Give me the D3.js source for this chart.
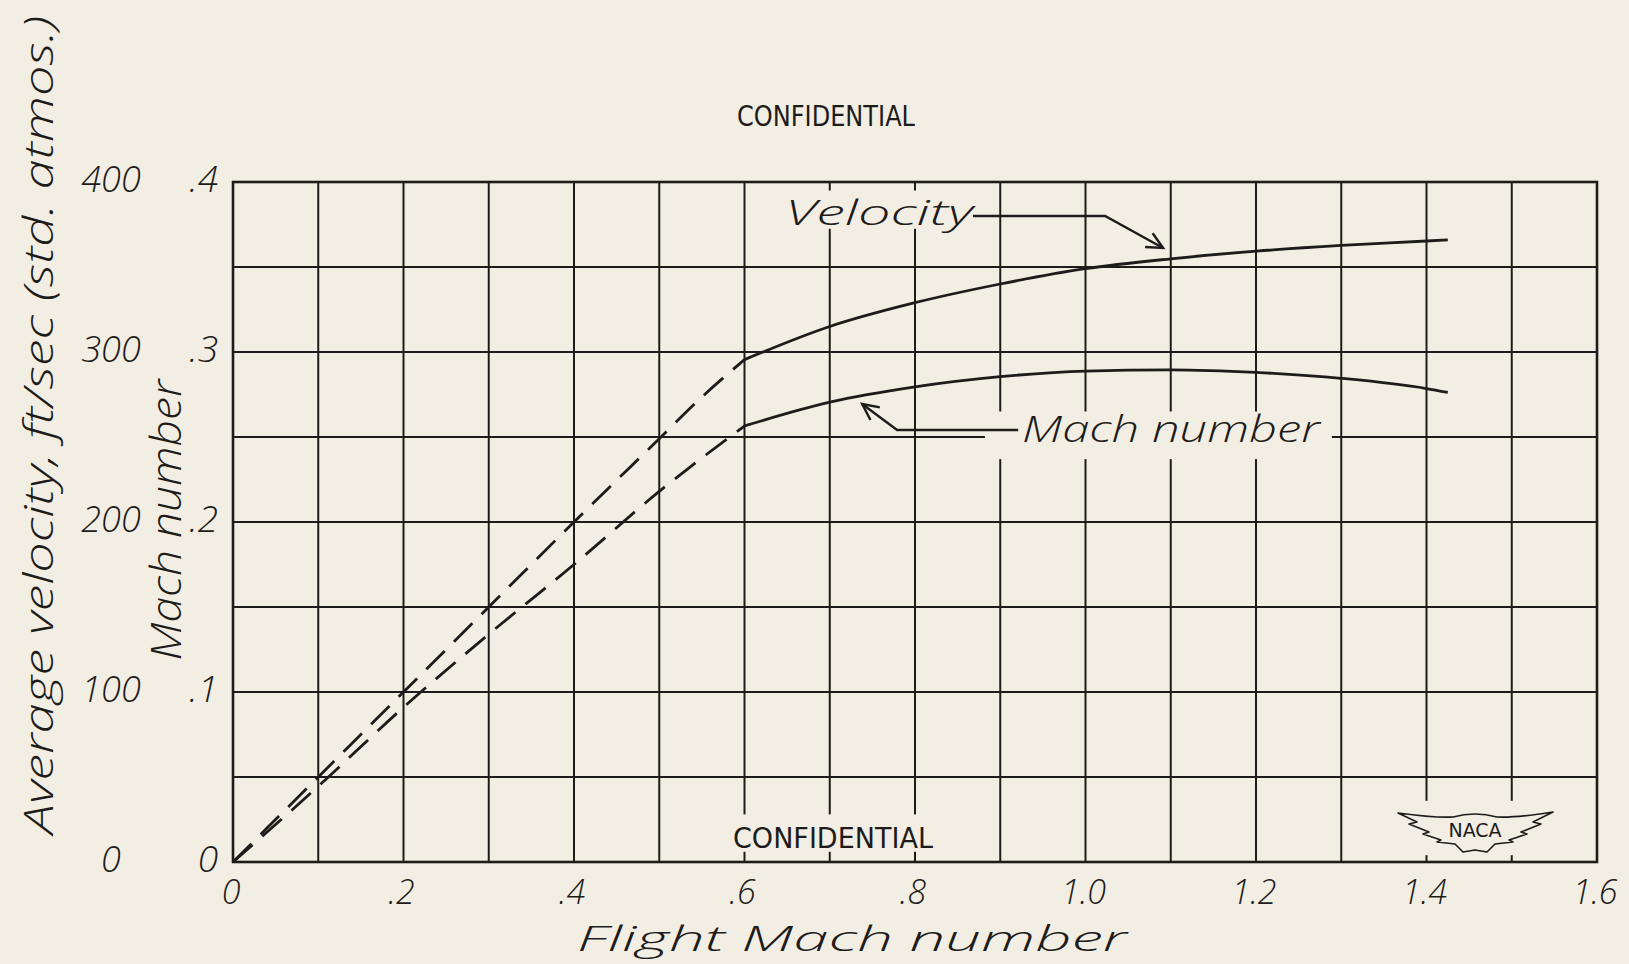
<!DOCTYPE html>
<html>
<head>
<meta charset="utf-8">
<script src="https://cdn.jsdelivr.net/npm/d3@7"></script>
<style>
  html, body { margin: 0; padding: 0; background: #f3eee4; }
  svg { display: block; }
  .hand { font-family: "Open Sans", "DejaVu Sans", sans-serif; font-style: italic; font-weight: 300; fill: #1e1c1a; }
  .stamp { font-family: "DejaVu Sans", sans-serif; font-weight: 500; fill: #1e1c1a; }
</style>
</head>
<body>
<svg id="chart" width="1629" height="964"></svg>
<script>
// x axis: flight Mach number
const xTickVals = [0, 0.2, 0.4, 0.6, 0.8, 1.0, 1.2, 1.4, 1.6];
const xTickLabels = ["0", ".2", ".4", ".6", ".8", "1.0", "1.2", "1.4", "1.6"];
// left axes: Mach number and velocity (ft/sec)
const machTickVals = [0, 0.1, 0.2, 0.3, 0.4];
const machTickLabels = ["0", ".1", ".2", ".3", ".4"];
const velTickVals = [0, 100, 200, 300, 400];
const velTickLabels = ["0", "100", "200", "300", "400"];

// average velocity, ft/sec
const velDashedM = [0, 0.1, 0.2, 0.3, 0.4, 0.5, 0.55, 0.6];
const velDashed  = [0, 50, 100, 150, 200, 249, 273.5, 295.5];
const velSolidM  = [0.6, 0.7, 0.8, 0.9, 1.0, 1.1, 1.2, 1.3, 1.4, 1.425];
const velSolid   = [295.5, 315, 329, 340, 349, 354.8, 359.3, 362.7, 365.3, 366];
// average Mach number
const machDashedM = [0, 0.1, 0.2, 0.3, 0.4, 0.5, 0.6];
const machDashed  = [0, 0.0445, 0.091, 0.134, 0.175, 0.218, 0.2565];
const machSolidM  = [0.6, 0.7, 0.8, 0.9, 1.0, 1.1, 1.2, 1.3, 1.4, 1.425];
const machSolid   = [0.2565, 0.2705, 0.2795, 0.2855, 0.2888, 0.2895, 0.288, 0.2845, 0.2785, 0.2762];

const ink = "#1e1c1a", paper = "#f3eee4";
const svg = d3.select("#chart");
const plotL = 233, plotR = 1597, plotT = 182, plotB = 862;

const x = d3.scaleLinear().domain([0, 1.6]).range([plotL, plotR]);
const yM = d3.scaleLinear().domain([0, 0.4]).range([plotB, plotT]);
const yV = d3.scaleLinear().domain([0, 400]).range([plotB, plotT]);

// grid
const grid = svg.append("g").attr("stroke", ink).attr("stroke-width", 2);
grid.selectAll("line.v").data(x.ticks(16)).join("line").attr("class", "v")
  .attr("x1", d => x(d)).attr("x2", d => x(d)).attr("y1", plotT).attr("y2", plotB);
grid.selectAll("line.h").data(yM.ticks(8)).join("line").attr("class", "h")
  .attr("x1", plotL).attr("x2", plotR).attr("y1", d => yM(d)).attr("y2", d => yM(d));

// paper gaps where the lettering sits on the grid
const gaps = [
  {m0: 0.636, m1: 0.883, v0: 0.3725, v1: 0.395},   // Velocity
  {m0: 0.882, m1: 1.289, v0: 0.237, v1: 0.265},    // Mach number
  {m0: 0.58,  m1: 0.84,  v0: 0.006, v1: 0.028},    // CONFIDENTIAL
  {m0: 1.35,  m1: 1.55,  v0: 0.004, v1: 0.036}     // NACA
];
svg.append("g").selectAll("rect").data(gaps).join("rect")
  .attr("x", d => x(d.m0)).attr("width", d => x(d.m1) - x(d.m0))
  .attr("y", d => yM(d.v1)).attr("height", d => yM(d.v0) - yM(d.v1))
  .attr("fill", paper);

// frame
svg.append("rect").attr("x", plotL).attr("y", plotT)
  .attr("width", plotR - plotL).attr("height", plotB - plotT)
  .attr("fill", "none").attr("stroke", ink).attr("stroke-width", 2.6);

// curves
const lineV = d3.line().x(d => x(d[0])).y(d => yV(d[1])).curve(d3.curveMonotoneX);
const lineM = d3.line().x(d => x(d[0])).y(d => yM(d[1])).curve(d3.curveMonotoneX);
const curves = [
  {gen: lineV, pts: d3.zip(velDashedM, velDashed), dash: "26,13"},
  {gen: lineV, pts: d3.zip(velSolidM, velSolid), dash: null},
  {gen: lineM, pts: d3.zip(machDashedM, machDashed), dash: "26,13"},
  {gen: lineM, pts: d3.zip(machSolidM, machSolid), dash: null}
];
svg.append("g").selectAll("path").data(curves).join("path")
  .attr("d", d => d.gen(d.pts))
  .attr("fill", "none").attr("stroke", ink).attr("stroke-width", 2.8)
  .attr("stroke-dasharray", d => d.dash);

// leaders with open arrowheads (points in Mach / Mach-axis units)
const leaders = [
  [[0.868, 0.380], [1.023, 0.380], [1.091, 0.3612]],
  [[0.921, 0.2541], [0.779, 0.2541], [0.738, 0.2694]]
];
const lead = svg.append("g").attr("stroke", ink).attr("stroke-width", 2.4).attr("fill", "none");
leaders.forEach(pts => {
  const p = pts.map(d => [x(d[0]), yM(d[1])]);
  lead.append("path").attr("d", d3.line()(p));
  const [a, b] = [p[p.length - 2], p[p.length - 1]];
  const ang = Math.atan2(a[1] - b[1], a[0] - b[0]);
  const arm = s => [b[0] + 18 * Math.cos(ang + s), b[1] + 18 * Math.sin(ang + s)];
  lead.append("path").attr("d", d3.line()([arm(0.45), b, arm(-0.45)]));
});

// curve labels
svg.append("text").attr("class", "hand")
  .attr("x", x(0.6475)).attr("y", yM(0.3747))
  .attr("font-size", 34).attr("textLength", 188).attr("lengthAdjust", "spacingAndGlyphs")
  .text("Velocity");
svg.append("text").attr("class", "hand")
  .attr("x", x(0.9255)).attr("y", yM(0.247))
  .attr("font-size", 36).attr("textLength", 298).attr("lengthAdjust", "spacingAndGlyphs")
  .text("Mach number");

// tick labels
svg.append("g").selectAll("text").data(xTickVals).join("text")
  .attr("class", "hand").attr("font-size", 34).attr("text-anchor", "middle")
  .attr("x", d => x(d) - 2).attr("y", 904)
  .text((d, i) => xTickLabels[i]);
svg.append("g").selectAll("text").data(machTickVals).join("text")
  .attr("class", "hand").attr("font-size", 37).attr("text-anchor", "end")
  .attr("x", 218).attr("y", d => yM(d) + 10)
  .text((d, i) => machTickLabels[i]);
svg.append("g").selectAll("text").data(velTickVals).join("text")
  .attr("class", "hand").attr("font-size", 36).attr("text-anchor", "middle")
  .attr("x", 111).attr("y", d => yV(d) + 10)
  .text((d, i) => velTickLabels[i]);

// axis titles
svg.append("text").attr("class", "hand").attr("font-size", 34).attr("text-anchor", "middle")
  .attr("x", 852).attr("y", 951).attr("textLength", 550).attr("lengthAdjust", "spacingAndGlyphs")
  .text("Flight Mach number");
svg.append("text").attr("class", "hand").attr("font-size", 40).attr("text-anchor", "middle")
  .attr("transform", "translate(53,425) rotate(-90)")
  .attr("textLength", 818).attr("lengthAdjust", "spacingAndGlyphs")
  .text("Average velocity, ft/sec (std. atmos.)");
svg.append("text").attr("class", "hand").attr("font-size", 42).attr("text-anchor", "middle")
  .attr("transform", "translate(181,520) rotate(-90)")
  .attr("textLength", 281).attr("lengthAdjust", "spacingAndGlyphs")
  .text("Mach number");

// stamps
svg.append("text").attr("class", "stamp").attr("font-size", 28)
  .attr("x", 737).attr("y", 126).attr("textLength", 178).attr("lengthAdjust", "spacingAndGlyphs")
  .text("CONFIDENTIAL");
svg.append("text").attr("class", "stamp").attr("font-size", 28)
  .attr("x", 733).attr("y", 848).attr("textLength", 200).attr("lengthAdjust", "spacingAndGlyphs")
  .text("CONFIDENTIAL");

// NACA wings
const cx = 1475, cy = 830;
const wing = svg.append("g").attr("transform", `translate(${cx},${cy})`);
wing.append("path")
  .attr("d", "M-77,-17 Q-40,-12 -22,-13 Q0,-19 22,-13 Q40,-12 78,-18 " +
             "L58,-8 L66,-6 L46,2 L52,4 L34,10 L38,12 L20,14 L12,22 L0,20 " +
             "L-12,22 L-20,14 L-38,12 L-34,10 L-52,4 L-46,2 L-66,-6 L-58,-8 Z")
  .attr("fill", "none").attr("stroke", ink).attr("stroke-width", 1.6).attr("stroke-linejoin", "round");
wing.append("text").attr("class", "stamp").attr("font-size", 19).attr("text-anchor", "middle")
  .attr("y", 7).text("NACA");
</script>
</body>
</html>
